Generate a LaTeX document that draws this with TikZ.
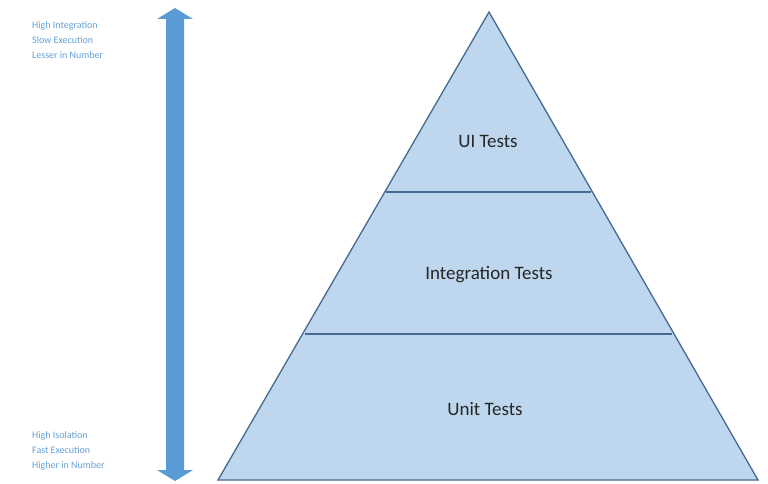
\documentclass[tikz,border=0pt]{standalone}
\usepackage{fontspec}
\setmainfont{Carlito}
\definecolor{pfill}{RGB}{190,215,238}
\definecolor{pline}{RGB}{70,105,145}
\definecolor{arr}{RGB}{91,155,213}
\definecolor{ltxt}{RGB}{100,160,215}
\begin{document}
\begin{tikzpicture}[x=1pt,y=-1pt,
  side/.style={font=\fontsize{10}{15}\selectfont,text=ltxt,align=left,anchor=north west,inner sep=0},
  lbl/.style={font=\fontsize{19}{22}\selectfont,text=black!85}]
\useasboundingbox (0,0) rectangle (768,484);
\coordinate (apex) at (489,12);
\coordinate (bl) at (218,480);
\coordinate (br) at (758,480);
\coordinate (l1) at (386,192);
\coordinate (r1) at (591,192);
\coordinate (l2) at (305,334);
\coordinate (r2) at (672,334);
\draw[pline,line width=1.3pt,fill=pfill,line join=miter] (apex) -- (br) -- (bl) -- cycle;
\draw[pline,line width=1.3pt] (l1) -- (r1);
\draw[pline,line width=1.3pt] (l2) -- (r2);
\node[lbl] (ui) at (488,141) {UI Tests};
\node[lbl] (it) at (489,275) {Integration Tests};
\node[lbl] (ut) at (485,409) {Unit Tests};
\fill[arr] (175,8) -- (193,19) -- (184,19) -- (184,470) -- (193,470) -- (175,481) -- (157,470) -- (166,470) -- (166,19) -- (157,19) -- cycle;
\node[side] (top) at (32,21) {High Integration\\Slow Execution\\Lesser in Number};
\node[side] (bot) at (32,431) {High Isolation\\Fast Execution\\Higher in Number};
\end{tikzpicture}
\end{document}
